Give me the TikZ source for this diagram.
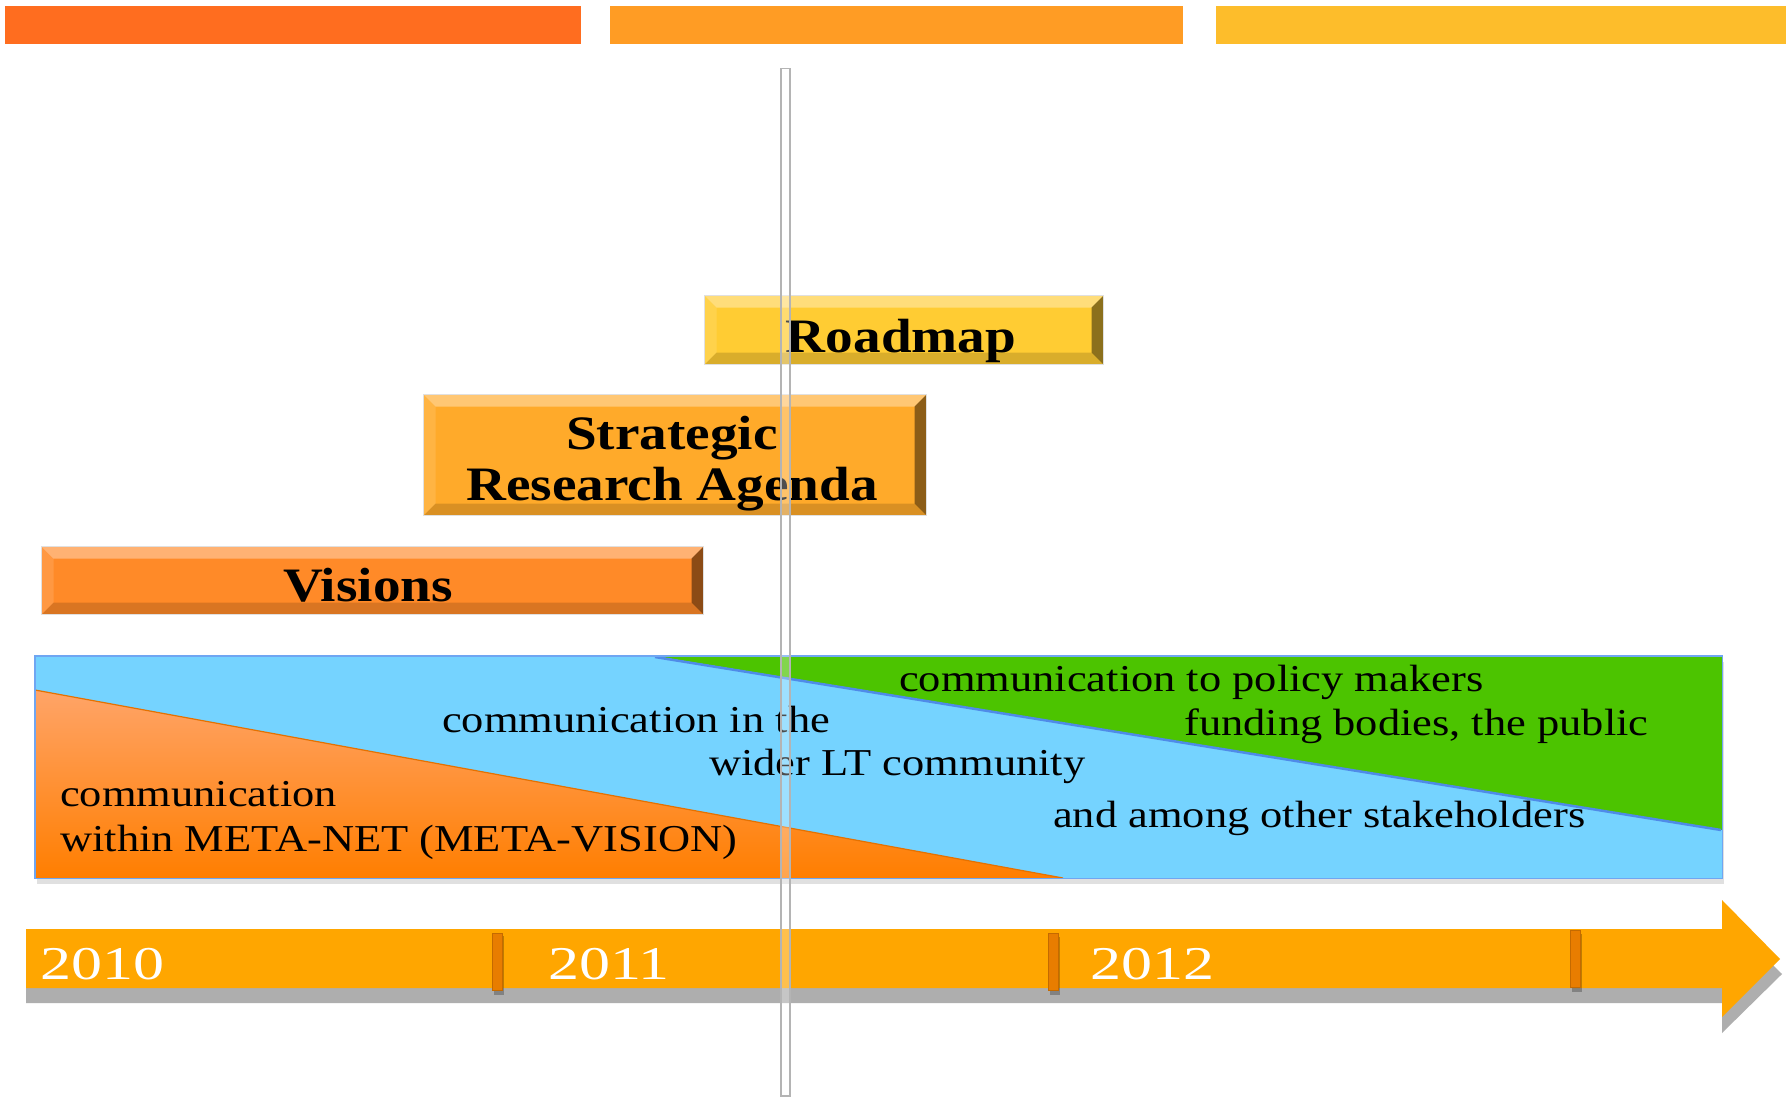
\documentclass[tikz,border=0pt]{standalone}
\usepackage{fontspec}
\setmainfont{Liberation Serif}
\newfontfamily\commfont[FakeStretch=1.17]{Liberation Serif}
\newfontfamily\boxfont[FakeStretch=1.15]{Liberation Serif}
\newfontfamily\yearfont[FakeStretch=1.32]{Liberation Serif}
\usetikzlibrary{calc}
\definecolor{barA}{HTML}{FF6D1F}
\definecolor{barB}{HTML}{FF9C24}
\definecolor{barC}{HTML}{FDBD2B}
\definecolor{roadmapc}{HTML}{FFCC33}
\definecolor{srac}{HTML}{FFAA2A}
\definecolor{visc}{HTML}{FF8A28}
\definecolor{commblue}{HTML}{75D3FF}
\definecolor{commgreen}{HTML}{4CC400}
\definecolor{edgeblue}{HTML}{4F8BE8}
\definecolor{borderblue}{HTML}{6FA6F2}
\definecolor{orangeTop}{HTML}{FFA468}
\definecolor{orangeBot}{HTML}{FF7E00}
\definecolor{tlcol}{HTML}{FFA600}
\definecolor{tlshadow}{HTML}{AEAEAE}
\definecolor{tickcol}{HTML}{E87D00}
\definecolor{tickborder}{HTML}{C46A00}
\definecolor{linegray}{HTML}{B4B4B4}
\begin{document}
\begin{tikzpicture}[x=1pt,y=-1pt,
  commtext/.style={font=\commfont\fontsize{38}{44}\selectfont, inner sep=0pt, anchor=base west, text=black},
  boxtext/.style={font=\boxfont\bfseries\fontsize{48}{48}\selectfont, inner sep=0pt, anchor=base, text=black},
  yeartext/.style={font=\yearfont\fontsize{47}{47}\selectfont, text=white, inner sep=0pt, anchor=base west},
  bevelbox/.style={inner sep=0pt, draw=black!12, line width=1pt, anchor=north west,
    path picture={
      \fill[white,opacity=.35] (path picture bounding box.north west) -- (path picture bounding box.north east) -- ([shift={(-12pt,-12pt)}]path picture bounding box.north east) -- ([shift={(12pt,-12pt)}]path picture bounding box.north west) -- cycle;
      \fill[black,opacity=.45] (path picture bounding box.north east) -- (path picture bounding box.south east) -- ([shift={(-12pt,12pt)}]path picture bounding box.south east) -- ([shift={(-12pt,-12pt)}]path picture bounding box.north east) -- cycle;
      \fill[black,opacity=.15] (path picture bounding box.south west) -- ([shift={(12pt,12pt)}]path picture bounding box.south west) -- ([shift={(-12pt,12pt)}]path picture bounding box.south east) -- (path picture bounding box.south east) -- cycle;
      \fill[white,opacity=.12] (path picture bounding box.north west) -- ([shift={(12pt,-12pt)}]path picture bounding box.north west) -- ([shift={(12pt,12pt)}]path picture bounding box.south west) -- (path picture bounding box.south west) -- cycle;
    }},
  tick/.style={fill=tickcol, draw=tickborder, line width=1pt, minimum width=10pt, minimum height=57pt, inner sep=0pt}
]
\useasboundingbox (0,0) rectangle (1786,1097);
\fill[white] (0,0) rectangle (1786,1097);

% top bars
\fill[barA] (4.5,6) rectangle (581,44);
\fill[barB] (610,6) rectangle (1183,44);
\fill[barC] (1216,6) rectangle (1786,44);

% phase boxes
\node[bevelbox, fill=roadmapc, minimum width=399pt, minimum height=69pt] (roadmap) at (704,295) {};
\node[boxtext] (roadmaptext) at (901,352) {Roadmap};
\node[bevelbox, fill=srac, minimum width=503pt, minimum height=121pt] (sra) at (423,394) {};
\node[boxtext] (sratext1) at (672,449) {Strategic};
\node[boxtext] (sratext2) at (672,500) {Research Agenda};
\node[bevelbox, fill=visc, minimum width=662pt, minimum height=68pt] (visions) at (41,546) {};
\node[boxtext] (visionstext) at (368,601) {Visions};

% communication box
\fill[black,opacity=.12] (37,662) rectangle (1724,884);
\node[fill=commblue, minimum width=1687pt, minimum height=222pt, inner sep=0pt, anchor=north west] (comm) at (35,656) {};
\fill[commgreen] (655,656) -- (comm.north east) -- (1722,830) -- cycle;
\draw[edgeblue, line width=2.5pt] (655,657) -- (1721,830);
\shade[top color=orangeTop, bottom color=orangeBot] (comm.south west) -- (35,690) -- (1063,878) -- cycle;
\draw[orangeBot!90!black, line width=1.2pt] (35,690) -- (1063,878);
\draw[borderblue, line width=1.5pt] (comm.north west) rectangle (comm.south east);

\node[commtext] (c1) at (899,691) {communication to policy makers};
\node[commtext] (c2) at (1184,735) {funding bodies, the public};
\node[commtext] (c3) at (442,732) {communication in the};
\node[commtext] (c4) at (709,775) {wider LT community};
\node[commtext] (c5) at (1053,827) {and among other stakeholders};
\node[commtext] (c6) at (60,806) {communication};
\node[commtext] (c7) at (60,851) {within META-NET (META-VISION)};

% timeline
\fill[tlshadow] (26,944) -- (1722,944) -- (1722,915) -- (1782,974) -- (1722,1033) -- (1722,1003) -- (26,1003) -- cycle;
\fill[tlcol] (26,929) -- (1722,929) -- (1722,900) -- (1780,959) -- (1722,1017) -- (1722,988) -- (26,988) -- cycle;
\fill[black,opacity=.25] (494,936) rectangle (504,995);
\fill[black,opacity=.25] (1050,937) rectangle (1060,995);
\fill[black,opacity=.25] (1572,934) rectangle (1582,992);
\node[tick] (t1) at (497,961.5) {};
\node[tick] (t2) at (1053,962) {};
\node[tick] (t3) at (1575,959) {};
\node[yeartext] (y2010) at (40,979) {2010};
\node[yeartext] (y2011) at (548,979) {2011};
\node[yeartext] (y2012) at (1090,979) {2012};

% vertical marker line
\node[draw=linegray, line width=1.5pt, fill=white, fill opacity=.3, minimum width=9pt, minimum height=1027pt, inner sep=0pt, anchor=north west] (vline) at (780,68) {};
\end{tikzpicture}
\end{document}
